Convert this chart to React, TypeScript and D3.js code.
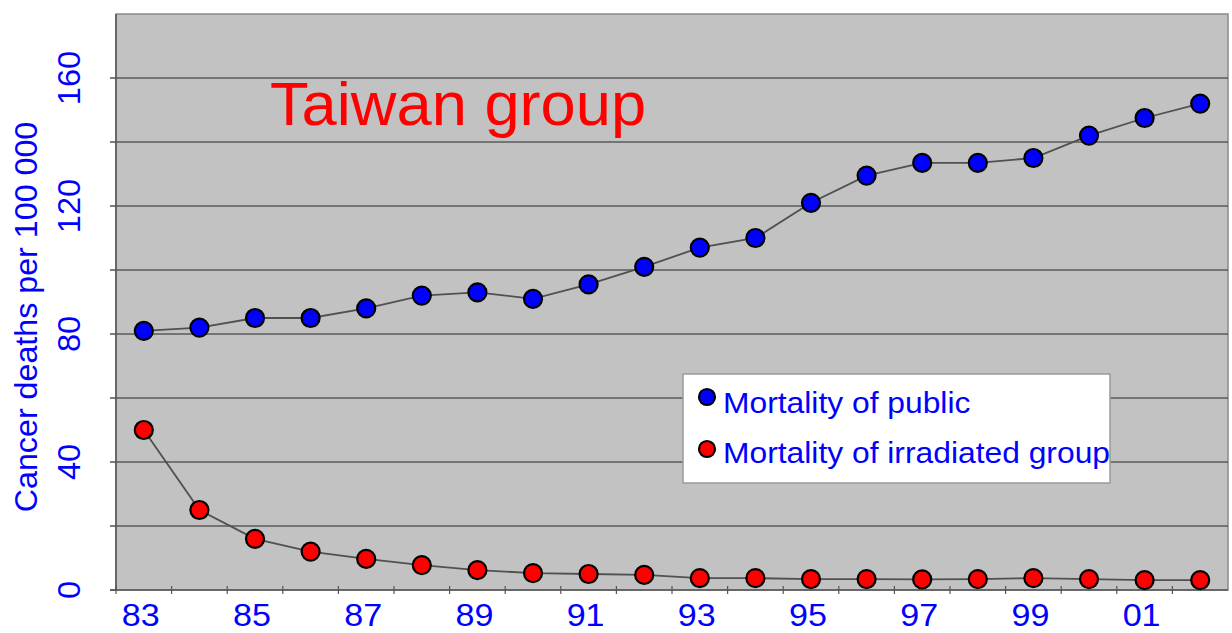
import React from "react";
import * as d3 from "d3";

const years = ["83","84","85","86","87","88","89","90","91","92","93","94","95","96","97","98","99","00","01","02"];
const publicMortality = [81,82,85,85,88,92,93,91,95.5,101,107,110,121,129.5,133.5,133.5,135,142,147.5,152];
const irradiatedMortality = [50,25,16,12,9.7,7.8,6.2,5.3,5,4.7,3.7,3.7,3.4,3.4,3.3,3.4,3.7,3.4,3.1,3.1];
const xTickLabels = ["83","85","87","89","91","93","95","97","99","01"];
const yTickValues = [0,40,80,120,160];
const yGridValues = [20,40,60,80,100,120,140,160];
const seriesNames = ["Mortality of public","Mortality of irradiated group"];

const W = 1232, H = 633;
const FONT = "'Liberation Sans', Arial, sans-serif";

export default function App() {
  const left = 116, right = 1228, top = 14, bottom = 590;
  const x = d3.scaleBand<string>().domain(years).range([left, right]).paddingInner(0).paddingOuter(0);
  const y = d3.scaleLinear().domain([0, 180]).range([bottom, top]);
  const cx = (yr: string) => (x(yr) as number) + x.bandwidth() / 2;
  const line = d3.line<number>().x((_, i) => cx(years[i])).y(v => y(v));
  const series = [
    { name: seriesNames[0], values: publicMortality, color: "#0000ff" },
    { name: seriesNames[1], values: irradiatedMortality, color: "#ff0000" },
  ];
  return (
    <svg width={W} height={H} style={{ position: "absolute", left: 0, top: 0, background: "#fff" }}>
      <rect x={left} y={top} width={right - left} height={bottom - top} fill="#c2c2c2" stroke="#8a8a8a" strokeWidth={1.5} />
      <line x1={left} x2={left} y1={top} y2={bottom} stroke="#555" strokeWidth={1.5} />
      {yGridValues.map(v => (
        <line key={v} x1={left} x2={right} y1={y(v)} y2={y(v)} stroke="#5a5a5a" strokeWidth={1.5} />
      ))}
      <line x1={left - 6} x2={right} y1={bottom} y2={bottom} stroke="#555" strokeWidth={1.5} />
      {yGridValues.concat([0]).map(v => (
        <line key={"yt" + v} x1={left - 6} x2={left} y1={y(v)} y2={y(v)} stroke="#555" strokeWidth={1.5} />
      ))}
      {years.map((yr, i) => (
        <line key={"xt" + i} x1={(x(yr) as number)} x2={(x(yr) as number)} y1={bottom - 4} y2={bottom + 4} stroke="#555" strokeWidth={1.2} />
      ))}
      {yTickValues.map(v => (
        <text key={"yl" + v} transform={`translate(80,${y(v)}) rotate(-90) scale(1.05,1)`} textAnchor="middle" fontFamily={FONT} fontSize={31} fill="#0000ff">{v}</text>
      ))}
      {xTickLabels.map(t => (
        <text key={"xl" + t} transform={`translate(${cx(t) - 3},626) scale(1.1,1)`} textAnchor="middle" fontFamily={FONT} fontSize={31} fill="#0000ff">{t}</text>
      ))}
      <text transform={`translate(37,317) rotate(-90) scale(1.04,1)`} textAnchor="middle" fontFamily={FONT} fontSize={31} fill="#0000ff">Cancer deaths per 100 000</text>
      <text transform="translate(270,125) scale(1.02,1)" fontFamily={FONT} fontSize={62} fill="#ff0000">Taiwan group</text>
      {series.map(s => (
        <g key={s.name}>
          <path d={line(s.values) || ""} fill="none" stroke="#505050" strokeWidth={1.8} />
          {s.values.map((v, i) => (
            <circle key={i} cx={cx(years[i])} cy={y(v)} r={9} fill={s.color} stroke="#000" strokeWidth={2.2} />
          ))}
        </g>
      ))}
      <rect x={683} y={374} width={427} height={109} fill="#fff" stroke="#9a9a9a" strokeWidth={1.5} />
      {series.map((s, i) => (
        <g key={"lg" + i}>
          <circle cx={707} cy={397 + i * 52} r={8} fill={s.color} stroke="#000" strokeWidth={2.2} />
          <text transform={`translate(723,${413 + i * 50}) scale(1.06,1)`} fontFamily={FONT} fontSize={30} fill="#0000ff">{s.name}</text>
        </g>
      ))}
    </svg>
  );
}
